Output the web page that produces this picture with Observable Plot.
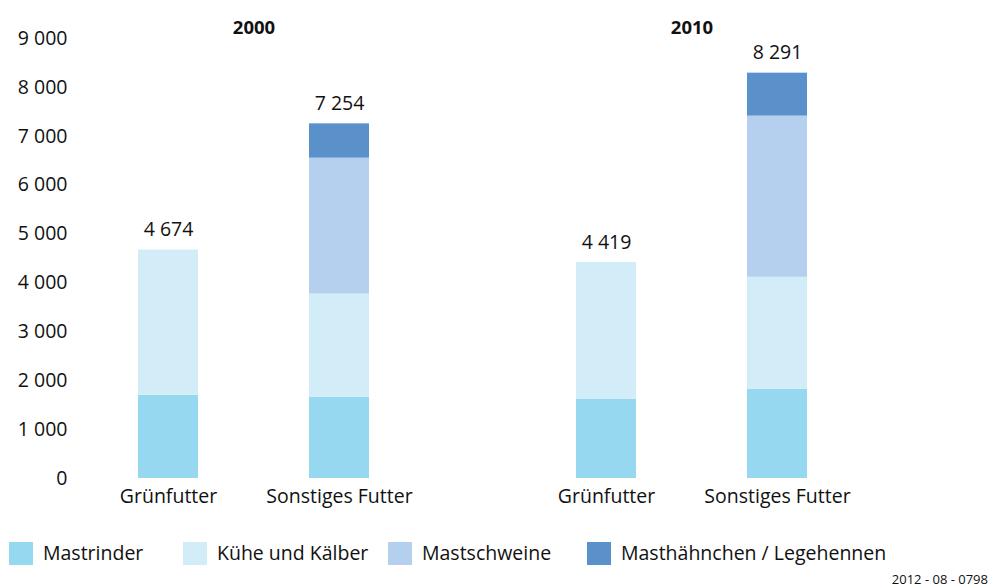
<!DOCTYPE html>
<html>
<head>
<meta charset="utf-8">
<script src="https://cdn.jsdelivr.net/npm/d3@7"></script>
<script src="https://cdn.jsdelivr.net/npm/@observablehq/plot@0.6"></script>
<style>
  html, body { margin: 0; padding: 0; background: #fff; }
  body { width: 993px; height: 588px; position: relative; font-family: "Open Sans", sans-serif; color: #111; overflow: hidden; }
  #chart { position: absolute; left: 0; top: 0; }
  .legend { position: absolute; top: 541px; left: 0; width: 993px; height: 26px; }
  .item { position: absolute; top: 0; display: flex; align-items: center; font-size: 19.5px; line-height: 24px; }
  .sw { width: 24px; height: 23px; margin-right: 10px; }
  .caption { position: absolute; right: 5px; top: 572px; font-size: 13px; line-height: 14px; }
</style>
</head>
<body>
<div id="chart"></div>
<div class="legend" id="legend"></div>
<div class="caption">2012 - 08 - 0798</div>
<script>
// ---- data ----
const years = ["2000", "2010"];
const feeds = ["Grünfutter", "Sonstiges Futter"];
const animals = ["Mastrinder", "Kühe und Kälber", "Mastschweine", "Masthähnchen / Legehennen"];
// order of bars: 2000 Grünfutter, 2000 Sonstiges Futter, 2010 Grünfutter, 2010 Sonstiges Futter
const barYears = ["2000", "2000", "2010", "2010"];
const barFeeds = ["Grünfutter", "Sonstiges Futter", "Grünfutter", "Sonstiges Futter"];
const mastrinder = [1700, 1665, 1618, 1822];
const kueheKaelber = [2974, 2109, 2801, 2293];
const mastschweine = [0, 2778, 0, 3297];
const masthaehnchen = [0, 702, 0, 879];
const totals = [4674, 7254, 4419, 8291];
const yTicks = [0, 1000, 2000, 3000, 4000, 5000, 6000, 7000, 8000, 9000];

// ---- styles ----
const colors = ["#97d8f1", "#d3edf8", "#b4d0ee", "#5b91cb"];
const legendLefts = [9, 183, 388, 587];

const series = [mastrinder, kueheKaelber, mastschweine, masthaehnchen];
const rows = [];
barYears.forEach((yr, i) => {
  animals.forEach((a, k) => {
    rows.push({year: yr, feed: barFeeds[i], animal: a, value: series[k][i]});
  });
});
const totalRows = barYears.map((yr, i) => ({year: yr, feed: barFeeds[i], total: totals[i]}));

const fmtT = d3.formatLocale({decimal: ",", thousands: " ", grouping: [3], currency: ["", "€"]}).format(",d");

const chart = Plot.plot({
  width: 993,
  height: 520,
  marginLeft: 75,
  marginRight: 123,
  marginTop: 38,
  marginBottom: 42,
  style: {fontFamily: "'Open Sans', sans-serif", fontSize: "19.5px", color: "#111", background: "#fff"},
  fx: {domain: years, paddingInner: 0.185, paddingOuter: 0, label: null, axis: null},
  x: {domain: feeds, paddingInner: 0.649, paddingOuter: 0.368, label: null, axis: null},
  y: {domain: [0, 9000], label: null, axis: null},
  color: {domain: animals, range: colors},
  marks: [
    Plot.barY(rows, {fx: "year", x: "feed", y: "value", fill: "animal"}),
    Plot.text(totalRows, {fx: "year", x: "feed", y: "total", text: d => fmtT(d.total), dy: -20, fontSize: 19.5, fill: "#111"}),
    Plot.axisY({ticks: yTicks, tickFormat: fmtT, tickSize: 0, tickPadding: 8, label: null, fontSize: 19.5}),
    Plot.axisX({tickSize: 0, tickPadding: 11, label: null, fontSize: 19.5}),
    Plot.axisFx({anchor: "top", tickSize: 0, tickPadding: 5, label: null, fontSize: 18.5, fontWeight: "bold"})
  ]
});
document.getElementById("chart").appendChild(chart);

const legend = document.getElementById("legend");
animals.forEach((a, k) => {
  const it = document.createElement("div");
  it.className = "item";
  it.style.left = legendLefts[k] + "px";
  const sw = document.createElement("span");
  sw.className = "sw";
  sw.style.background = colors[k];
  const tx = document.createElement("span");
  tx.textContent = a;
  it.appendChild(sw);
  it.appendChild(tx);
  legend.appendChild(it);
});
</script>
</body>
</html>
